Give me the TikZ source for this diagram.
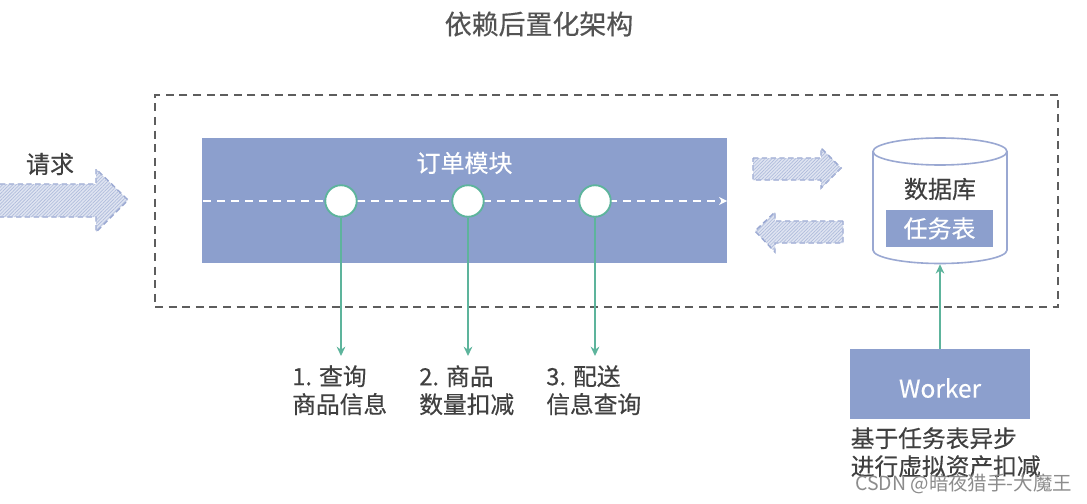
\documentclass[tikz,border=0pt]{standalone}
\usepackage{fontspec}
\setmainfont{Noto Sans CJK SC}[BoldFont={Noto Sans CJK SC},BoldFeatures={FakeBold=0.35}]
\usetikzlibrary{arrows.meta,patterns.meta}
\definecolor{blockblue}{HTML}{8C9FCD}
\definecolor{arrowblue}{HTML}{9AA8D2}
\definecolor{tealline}{HTML}{5DB49C}
\definecolor{txt}{HTML}{404040}
\tikzset{
  x=0.75pt,y=-0.75pt,
  label/.style={text=txt,font=\fontsize{18}{21}\selectfont\bfseries,inner sep=0pt},
  blockbox/.style={fill=blockblue,draw=none,inner sep=0pt,text=white,font=\fontsize{18}{21}\selectfont\bfseries},
  flowarrow/.style={draw=arrowblue,line width=1.1pt,dash pattern=on 4pt off 2.6pt,fill=blockblue!28,
    postaction={pattern={Lines[angle=45,distance=1.8pt,line width=0.5pt]},pattern color=blockblue!70}},
  probe/.style={circle,draw=tealline,fill=white,line width=1.4pt,minimum size=31.5*0.75pt,inner sep=0pt},
  tealarrow/.style={draw=tealline,line width=1.5pt,-{Stealth[length=7pt,width=6.5pt]}},
  stack/.style={align=left,text=txt,font=\fontsize{17.8}{21}\selectfont\bfseries,inner sep=0pt,anchor=north west}
}
\begin{document}
\begin{tikzpicture}
\useasboundingbox (0,0) rectangle (1087,503);
\fill[white] (0,0) rectangle (1087,503);
\node[label,font=\fontsize{20.2}{24}\selectfont\bfseries,text=txt!90] (title) at (539,24) {依赖后置化架构};
\node[draw=txt!85,line width=1.2pt,dash pattern=on 6pt off 4.2pt,minimum width=903*0.75pt,minimum height=212*0.75pt,inner sep=0pt] (frame) at (606.5,201) {};
% request arrow
\draw[flowarrow] (0,184) -- (96,184) -- (96,169) -- (128,200) -- (96,232) -- (96,217) -- (0,217);
\node[label] (req) at (50,164) {请求};
% order module
\node[blockbox,minimum width=525*0.75pt,minimum height=125*0.75pt] (module) at (464.5,200.5) {};
\node[text=white,font=\fontsize{18}{21}\selectfont\bfseries,inner sep=0pt] (modtitle) at (464.5,163) {订单模块};
\coordinate (dl) at (203,201);
\coordinate (dr) at (727,201);
\draw[white,line width=1.6pt,dash pattern=on 6pt off 4.5pt,-{Stealth[length=6pt,width=6pt]}] (dl) -- (dr);
\node[probe] (p1) at (341,201) {};
\node[probe] (p2) at (468,201) {};
\node[probe] (p3) at (595,201) {};
\coordinate (e1) at (341,356);
\coordinate (e2) at (468,356);
\coordinate (e3) at (595,356);
\draw[tealarrow] (p1) -- (e1);
\draw[tealarrow] (p2) -- (e2);
\draw[tealarrow] (p3) -- (e3);
\node[stack] (l1) at (292,365) {1. 查询\\商品信息};
\node[stack] (l2) at (419,365) {2. 商品\\数量扣减};
\node[stack] (l3) at (546,365) {3. 配送\\信息查询};
% exchange arrows
\draw[flowarrow] (753,158) -- (821,158) -- (821,148) -- (841,168) -- (821,188) -- (821,180) -- (753,180) -- cycle;
\draw[flowarrow] (843,221) -- (775,221) -- (775,212) -- (755,231) -- (775,252) -- (775,243) -- (843,243) -- cycle;
% database
\node[inner sep=0pt,minimum width=134*0.75pt,minimum height=126*0.75pt] (db) at (940,201) {};
\draw[arrowblue,line width=1.2pt,fill=white] (873,151) -- (873,250) arc[start angle=180,end angle=0,x radius=67,y radius=13.5] -- (1007,151);
\draw[arrowblue,line width=1.2pt,fill=white] (940,151.5) ellipse[x radius=67,y radius=13.5];
\node[label] (dbtext) at (940,189) {数据库};
\node[blockbox,minimum width=107*0.75pt,minimum height=37*0.75pt] (tasks) at (939.5,228.5) {任务表};
% worker
\node[blockbox,minimum width=180*0.75pt,minimum height=70*0.75pt] (worker) at (940,384) {};
\node[text=white,font=\fontsize{18.4}{21}\selectfont\bfseries,inner sep=0pt] (workertext) at (940,388) {Worker};
\draw[tealarrow] (worker.north) -- (db.south);
\node[stack] (wtext) at (850.5,427) {基于任务表异步\\进行虚拟资产扣减};
\node[text=black!45,font=\fontsize{14.6}{16}\selectfont,inner sep=0pt,anchor=west] (mark) at (855,484) {CSDN @暗夜猎手-大魔王};
\end{tikzpicture}
\end{document}
